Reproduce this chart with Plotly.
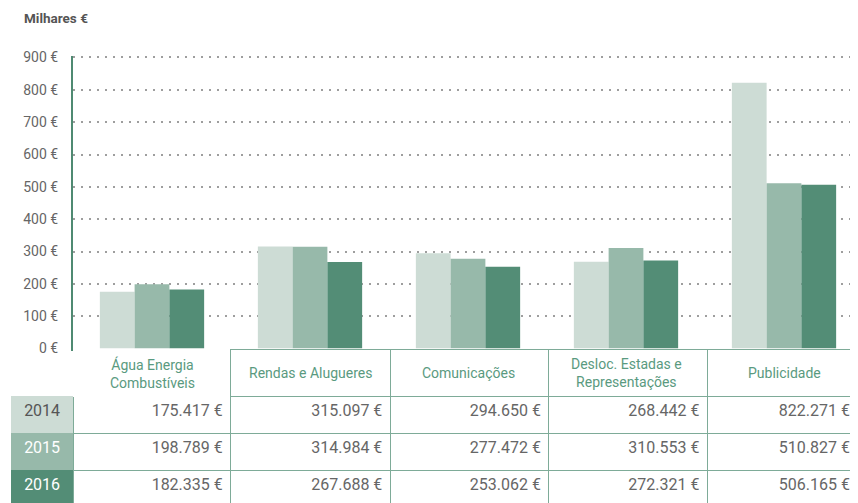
import plotly.graph_objects as go

# ---- data ----
categories = ["Água Energia<br>Combustíveis", "Rendas e Alugueres", "Comunicações",
              "Desloc. Estadas e<br>Representações", "Publicidade"]
years = ["2014", "2015", "2016"]
v2014 = [175.417, 315.097, 294.650, 268.442, 822.271]
v2015 = [198.789, 314.984, 277.472, 310.553, 510.827]
v2016 = [182.335, 267.688, 253.062, 272.321, 506.165]
y_ticks = [0, 100, 200, 300, 400, 500, 600, 700, 800, 900]
y_tick_labels = [f"{v} €" for v in y_ticks]

series = [v2014, v2015, v2016]
colors = ["#cddcd5", "#97b9aa", "#538d76"]
green_line = "#4f8a72"
table_line = "#7eab98"
header_green = "#5a9a80"
FONT = "Roboto"

# page has an 8px body margin: figure is placed at (8, 8) in the 858x503 window
OFF = 8
W, H = 858 - OFF, 503 - OFF


def px_x(p):  # page x -> paper fraction
    return (p - OFF) / W


def px_y(p):  # page y (from top) -> paper fraction
    return 1 - (p - OFF) / H


def fmt(v):
    return f"{round(v * 1000):,}".replace(",", ".") + " €"


fig = go.Figure()
xs = list(range(len(categories)))
for yr, vals, col in zip(years, series, colors):
    fig.add_trace(go.Bar(x=xs, y=vals, name=yr,
                         marker=dict(color=col, line=dict(width=0)),
                         showlegend=False, hoverinfo="skip"))

# table (values); header row carries only the grid, labels are annotations
cell_values = [years] + [[fmt(s[i]) for s in series] for i in range(len(categories))]
clear = "rgba(0,0,0,0)"
fig.add_trace(go.Table(
    domain=dict(x=[px_x(11), 1], y=[0, px_y(349)]),
    columnwidth=[62, 157, 159, 158, 158, 150],
    header=dict(values=[""] * (len(categories) + 1), height=47,
                fill=dict(color=[clear] + ["white"] * 5),
                line=dict(color=[clear, "white"] + [table_line] * 4, width=1),
                font=dict(family=FONT, size=14, color=header_green)),
    cells=dict(values=cell_values, height=37,
               align=["center"] + ["right"] * 5,
               fill=dict(color=[colors] + [["white"] * 3] * 5),
               line=dict(color=[colors] + [[table_line] * 3] * 5, width=1),
               font=dict(family=FONT, size=16,
                         color=[["#555555", "white", "white"]] + [["#666666"] * 3] * 5)),
))

annotations = [dict(text="<b>Milhares €</b>", x=px_x(22), y=px_y(18),
                    xref="paper", yref="paper", xanchor="left", yanchor="middle",
                    showarrow=False, font=dict(family=FONT, size=13.5, color="#555555"))]
for i, c in enumerate(categories):
    annotations.append(dict(text=c, x=i, y=px_y(373), xref="x", yref="paper",
                            xanchor="center", yanchor="middle", showarrow=False,
                            align="center",
                            font=dict(family=FONT, size=14, color=header_green)))

# headroom > 1px above 900 so plotly does not clip the 900 gridline at the edge
Y_TOP = 904.5
px_per_unit = (348.5 - 57.5) / 900
cat_w = (858 - 73) / 158.0
fig.update_layout(
    width=W, height=H,
    margin=dict(l=0, r=0, t=0, b=0, autoexpand=False),
    paper_bgcolor="white", plot_bgcolor="white",
    barmode="group", bargap=0.34, bargroupgap=0,
    font=dict(family=FONT, color="#666666"),
    xaxis=dict(domain=[px_x(73), 1], range=[-0.5, -0.5 + cat_w], automargin=False,
               showticklabels=False, showgrid=False, zeroline=False,
               showline=True, linecolor=green_line, linewidth=2, ticks=""),
    yaxis=dict(domain=[px_y(348.5), px_y(348.5 - Y_TOP * px_per_unit)], range=[0, Y_TOP],
               automargin=False,
               tickmode="array", tickvals=y_ticks, ticktext=y_tick_labels,
               tickfont=dict(family=FONT, size=14, color="#666666"),
               showgrid=True, gridcolor="#9e9e9e", gridwidth=2, griddash="2px,6px",
               zeroline=False, showline=True, linecolor=green_line, linewidth=2,
               ticks="", ticklabelstandoff=10),
    annotations=annotations,
)

fig.write_html("out.html")
